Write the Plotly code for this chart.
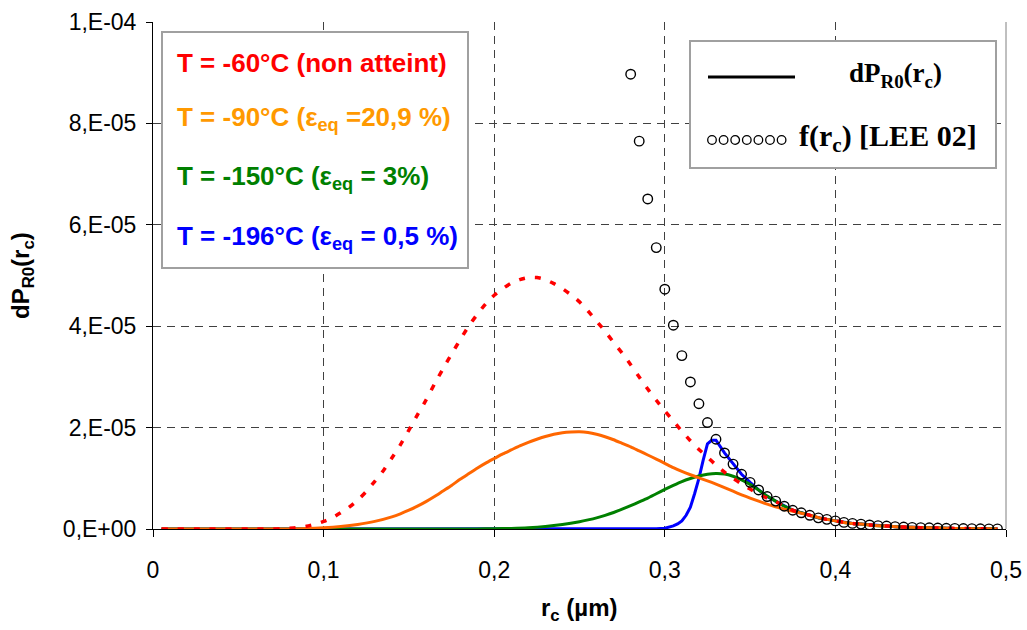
import numpy as np
import plotly.graph_objects as go

# ---------------- data (y values in units of 1e-6) ----------------
UNIT = 1e-6

circle_r = [0.28, 0.285, 0.29, 0.295, 0.30, 0.305, 0.31, 0.315, 0.32, 0.325, 0.33, 0.335,
            0.34, 0.345, 0.35, 0.355, 0.36, 0.365, 0.37, 0.375, 0.38, 0.385, 0.39, 0.395,
            0.40, 0.405, 0.41, 0.415, 0.42, 0.425, 0.43, 0.435, 0.44, 0.445, 0.45, 0.455,
            0.46, 0.465, 0.47, 0.475, 0.48, 0.485, 0.49, 0.495]
circle_y = [89.7, 76.5, 65.1, 55.5, 47.3, 40.2, 34.2, 29.0, 24.7, 21.0, 17.7, 15.0,
            12.8, 10.8, 9.2, 7.7, 6.4, 5.5, 4.5, 3.7, 3.2, 2.7, 2.2, 1.9,
            1.6, 1.3, 1.1, 0.97, 0.8, 0.66, 0.58, 0.46, 0.39, 0.33, 0.27, 0.24,
            0.2, 0.15, 0.12, 0.09, 0.07, 0.05, 0.03, 0.02]

red_r = [0.005, 0.03, 0.06, 0.07, 0.075, 0.08, 0.085, 0.09, 0.095, 0.10, 0.105, 0.11,
         0.115, 0.12, 0.125, 0.13, 0.135, 0.14, 0.145, 0.15, 0.155, 0.16, 0.165, 0.17,
         0.175, 0.18, 0.185, 0.19, 0.195, 0.20, 0.205, 0.21, 0.215, 0.22, 0.225, 0.23,
         0.235, 0.24, 0.245, 0.25, 0.255, 0.26, 0.265, 0.27, 0.275, 0.28, 0.285, 0.29,
         0.295, 0.30, 0.305, 0.31, 0.315, 0.32, 0.325, 0.33, 0.335, 0.34, 0.345, 0.35,
         0.355, 0.36, 0.365, 0.37, 0.375, 0.38, 0.385, 0.39, 0.395, 0.40, 0.405, 0.41,
         0.415, 0.42, 0.425, 0.43, 0.435, 0.44, 0.445, 0.45, 0.455, 0.46, 0.465, 0.47,
         0.475, 0.48, 0.485, 0.49, 0.495]
red_y = [0, 0, 0, 0.0, 0.05, 0.15, 0.3, 0.55, 0.95, 1.5, 2.2, 3.2,
         4.3, 5.7, 7.4, 9.4, 11.5, 14.0, 16.6, 19.5, 22.5, 25.4, 28.6, 31.6,
         34.5, 37.3, 40.0, 42.3, 44.4, 46.1, 47.4, 48.5, 49.2, 49.6, 49.6, 49.2,
         48.4, 47.4, 46.2, 44.8, 43.0, 41.0, 39.0, 36.8, 34.7, 32.4, 30.0, 27.6,
         25.4, 23.3, 21.3, 19.3, 17.4, 15.7, 14.2, 12.6, 11.2, 10.0, 8.9, 7.9,
         6.9, 6.1, 5.4, 4.5, 3.7, 3.2, 2.7, 2.2, 1.9, 1.6, 1.3, 1.1,
         0.97, 0.8, 0.66, 0.58, 0.46, 0.39, 0.33, 0.27, 0.24, 0.2, 0.15, 0.12,
         0.09, 0.07, 0.05, 0.03, 0.02]

orange_r = [0.005, 0.04, 0.08, 0.09, 0.10, 0.11, 0.12, 0.13, 0.14, 0.145, 0.15, 0.155, 0.16,
            0.165, 0.17, 0.175, 0.18, 0.185, 0.19, 0.195, 0.20, 0.205, 0.21, 0.215, 0.22,
            0.225, 0.23, 0.235, 0.24, 0.245, 0.25, 0.255, 0.26, 0.265, 0.27, 0.275, 0.28,
            0.285, 0.29, 0.295, 0.30, 0.305, 0.31, 0.315, 0.32, 0.325, 0.33, 0.335, 0.34,
            0.345, 0.35, 0.355, 0.36, 0.365, 0.37, 0.375, 0.38, 0.385, 0.39, 0.395, 0.40,
            0.405, 0.41, 0.415, 0.42, 0.425, 0.43, 0.435, 0.44, 0.445, 0.45, 0.455, 0.46,
            0.465, 0.47, 0.475, 0.48, 0.485, 0.49, 0.495]
orange_y = [0, 0, 0, 0.1, 0.25, 0.5, 0.9, 1.5, 2.4, 3.0, 3.7, 4.5, 5.4,
            6.4, 7.5, 8.6, 9.8, 10.9, 12.0, 13.0, 13.9, 14.8, 15.6, 16.4, 17.1,
            17.7, 18.25, 18.7, 19.0, 19.15, 19.2, 19.05, 18.7, 18.2, 17.6, 16.9, 16.2,
            15.4, 14.6, 13.8, 12.95, 12.1, 11.35, 10.7, 10.1, 9.5, 8.85, 8.15, 7.45,
            6.75, 6.1, 5.5, 4.9, 4.4, 3.9, 3.5, 3.1, 2.7, 2.25, 1.9, 1.6,
            1.3, 1.1, 0.97, 0.8, 0.66, 0.58, 0.46, 0.39, 0.33, 0.27, 0.24, 0.2,
            0.15, 0.12, 0.09, 0.07, 0.05, 0.03, 0.02]

green_r = [0.005, 0.10, 0.15, 0.19, 0.20, 0.21, 0.22, 0.23, 0.24, 0.25, 0.255, 0.26,
           0.265, 0.27, 0.275, 0.28, 0.285, 0.29, 0.295, 0.30, 0.305, 0.31, 0.315, 0.32,
           0.325, 0.33, 0.335, 0.34, 0.345, 0.35, 0.355, 0.36, 0.365, 0.37, 0.375, 0.38,
           0.385, 0.39, 0.395, 0.40, 0.405, 0.41, 0.415, 0.42, 0.425, 0.43, 0.435, 0.44,
           0.445, 0.45, 0.455, 0.46, 0.465, 0.47, 0.475, 0.48, 0.485, 0.49, 0.495]
green_y = [0, 0, 0, 0.02, 0.05, 0.12, 0.25, 0.5, 0.9, 1.45, 1.8, 2.2,
           2.7, 3.25, 3.9, 4.6, 5.35, 6.1, 6.95, 7.8, 8.6, 9.35, 9.95, 10.45,
           10.8, 10.95, 10.85, 10.4, 9.7, 8.8, 7.7, 6.5, 5.5, 4.5, 3.7, 3.2,
           2.7, 2.2, 1.9, 1.6, 1.3, 1.1, 0.97, 0.8, 0.66, 0.58, 0.46, 0.39,
           0.33, 0.27, 0.24, 0.2, 0.15, 0.12, 0.09, 0.07, 0.05, 0.03, 0.02]

blue_r = [0.005, 0.10, 0.20, 0.28, 0.29, 0.295, 0.30, 0.3025, 0.305, 0.3075, 0.31, 0.3125,
          0.315, 0.3175, 0.32, 0.3225, 0.325, 0.3275, 0.33, 0.335, 0.34, 0.345, 0.35, 0.355,
          0.36, 0.365, 0.37, 0.375, 0.38, 0.385, 0.39, 0.395, 0.40, 0.405, 0.41, 0.415,
          0.42, 0.425, 0.43, 0.435, 0.44, 0.445, 0.45, 0.455, 0.46, 0.465, 0.47, 0.475,
          0.48, 0.485, 0.49, 0.495]
blue_y = [0, 0, 0, 0, 0.02, 0.05, 0.15, 0.3, 0.6, 1.0, 1.6, 2.7,
          4.3, 7.0, 10.0, 13.6, 16.8, 17.5, 17.5, 15.0, 12.8, 10.8, 9.2, 7.7,
          6.4, 5.5, 4.5, 3.7, 3.2, 2.7, 2.2, 1.9, 1.6, 1.3, 1.1, 0.97,
          0.8, 0.66, 0.58, 0.46, 0.39, 0.33, 0.27, 0.24, 0.2, 0.15, 0.12, 0.09,
          0.07, 0.05, 0.03, 0.02]

x_ticks = [0, 0.1, 0.2, 0.3, 0.4, 0.5]
x_ticktext = ["0", "0,1", "0,2", "0,3", "0,4", "0,5"]
y_ticks = [0, 2e-5, 4e-5, 6e-5, 8e-5, 1e-4]
y_ticktext = ["0,E+00", "2,E-05", "4,E-05", "6,E-05", "8,E-05", "1,E-04"]

legend_left = [
    ("T = -60°C (non atteint)", "#FF0000"),
    ("T = -90°C (ε<sub>eq</sub> =20,9 %)", "#FF9900"),
    ("T = -150°C (ε<sub>eq</sub> = 3%)", "#008000"),
    ("T = -196°C (ε<sub>eq</sub> = 0,5 %)", "#0000FF"),
]

# ---------------- layout geometry (pixels) ----------------
W, H = 1027, 630
L, R, T, B = 153, 1006, 22, 529


def xp(px):
    return (px - L) / (R - L)


def yp(py):
    return (B - py) / (B - T)


def sc(v):
    return np.array(v) * UNIT


fig = go.Figure()
fig.add_trace(go.Scatter(x=blue_r, y=sc(blue_y), mode="lines",
                         line=dict(color="#0000FF", width=3), showlegend=False))
fig.add_trace(go.Scatter(x=green_r, y=sc(green_y), mode="lines",
                         line=dict(color="#008000", width=3, shape="spline", smoothing=0.6),
                         showlegend=False))
fig.add_trace(go.Scatter(x=orange_r, y=sc(orange_y), mode="lines",
                         line=dict(color="#FF6600", width=3, shape="spline", smoothing=0.6),
                         showlegend=False))
fig.add_trace(go.Scatter(x=red_r, y=sc(red_y), mode="lines",
                         line=dict(color="#FF0000", width=3.5, dash="6px,10px",
                                   shape="spline", smoothing=0.6),
                         showlegend=False))
fig.add_trace(go.Scatter(x=circle_r, y=sc(circle_y), mode="markers",
                         marker=dict(symbol="circle-open", size=9.5, color="black",
                                     line=dict(width=1.4, color="black")),
                         showlegend=False))

tickfont = dict(family="Arial, Liberation Sans, sans-serif", size=23, color="black")
grid = dict(showgrid=True, gridcolor="#404040", gridwidth=1, griddash="8px,6px")

fig.update_xaxes(range=[0, 0.5], tickvals=x_ticks, ticktext=x_ticktext, tickfont=tickfont,
                 ticks="outside", ticklen=7, tickcolor="black", showline=True,
                 linecolor="black", linewidth=1, zeroline=False,
                 ticklabelstandoff=13, **grid)
fig.update_yaxes(range=[0, 1e-4], tickvals=y_ticks, ticktext=y_ticktext, tickfont=tickfont,
                 ticks="outside", ticklen=6, tickcolor="black", showline=True,
                 linecolor="black", linewidth=1, zeroline=False,
                 ticklabelstandoff=5, **grid)

shapes = []
annotations = []

# right border of plot area
shapes.append(dict(type="line", xref="paper", yref="paper", x0=1, x1=1, y0=0, y1=1,
                   line=dict(color="#808080", width=1)))

# left legend box
shapes.append(dict(type="rect", xref="paper", yref="paper", x0=xp(162), x1=xp(468),
                   y0=yp(268), y1=yp(32), line=dict(color="#A0A0A0", width=2),
                   fillcolor="white", layer="above"))
legend_y = [63, 119, 177, 238]
for (txt, col), py in zip(legend_left, legend_y):
    annotations.append(dict(xref="paper", yref="paper", x=xp(175), y=yp(py),
                            xanchor="left", yanchor="middle", showarrow=False,
                            text="<b>" + txt + "</b>",
                            font=dict(family="Arial, Liberation Sans, sans-serif",
                                      size=26, color=col)))

# right legend box
shapes.append(dict(type="rect", xref="paper", yref="paper", x0=xp(690), x1=xp(996),
                   y0=yp(168), y1=yp(41), line=dict(color="#A0A0A0", width=2),
                   fillcolor="white", layer="above"))
shapes.append(dict(type="line", xref="paper", yref="paper", x0=xp(708), x1=xp(795),
                   y0=yp(77), y1=yp(77), line=dict(color="black", width=3), layer="above"))
for i in range(7):
    cx = 712 + i * 11.6
    shapes.append(dict(type="circle", xref="paper", yref="paper",
                       x0=xp(cx - 4.3), x1=xp(cx + 4.3), y0=yp(140 + 4.3), y1=yp(140 - 4.3),
                       line=dict(color="black", width=1.3), layer="above"))
serif = "Times New Roman, Liberation Serif, serif"
annotations.append(dict(xref="paper", yref="paper", x=xp(895), y=yp(75),
                        xanchor="center", yanchor="middle", showarrow=False,
                        text="<b>dP<sub>R0</sub>(r<sub>c</sub>)</b>",
                        font=dict(family=serif, size=27, color="black")))
annotations.append(dict(xref="paper", yref="paper", x=xp(797), y=yp(138),
                        xanchor="left", yanchor="middle", showarrow=False,
                        text="<b>f(r<sub>c</sub>) [LEE 02]</b>",
                        font=dict(family=serif, size=30, color="black")))

# axis titles
annotations.append(dict(xref="paper", yref="paper", x=xp(579), y=yp(609),
                        xanchor="center", yanchor="middle", showarrow=False,
                        text="<b>r<sub>c</sub> (µm)</b>",
                        font=dict(family="Arial, Liberation Sans, sans-serif", size=24,
                                  color="black")))
annotations.append(dict(xref="paper", yref="paper", x=xp(22), y=yp(276),
                        xanchor="center", yanchor="middle", showarrow=False,
                        textangle=-90,
                        text="<b>dP<sub>R0</sub>(r<sub>c</sub>)</b>",
                        font=dict(family="Arial, Liberation Sans, sans-serif", size=24,
                                  color="black")))

fig.update_layout(width=W, height=H, margin=dict(l=L, r=W - R, t=T, b=H - B, autoexpand=False),
                  paper_bgcolor="white", plot_bgcolor="white",
                  shapes=shapes, annotations=annotations, showlegend=False)

fig.write_html("out.html", config={"displayModeBar": False},
               post_script="document.body.style.margin='0';document.body.style.overflow='hidden';")
